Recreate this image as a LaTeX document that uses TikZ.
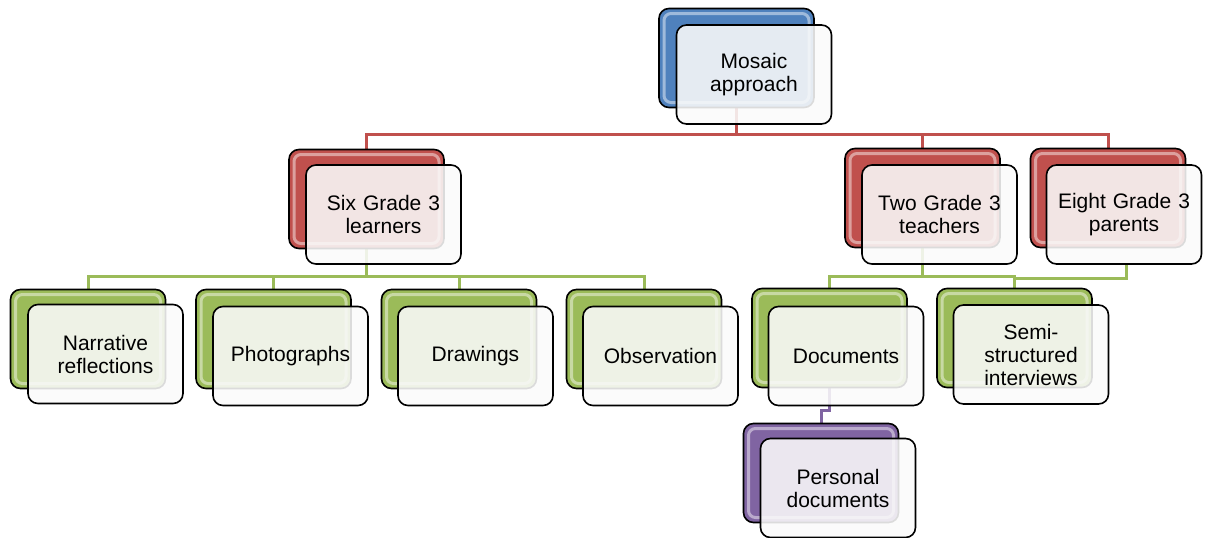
\documentclass[tikz,border=0pt]{standalone}
\usepackage{fontspec}
\setmainfont{Liberation Sans}
\usetikzlibrary{backgrounds}

\definecolor{hblue}{HTML}{4F81BD}
\definecolor{hred}{HTML}{C0504D}
\definecolor{hgreen}{HTML}{9BBB59}
\definecolor{hpurple}{HTML}{8064A2}

\tikzset{
  backbox/.style={draw=black, line width=1.6pt, rounded corners=10pt,
    fill=#1, minimum width=155pt, minimum height=99pt, inner sep=0pt,
    path picture={
      \draw[#1!35!white, opacity=.7, line width=3pt, rounded corners=7pt]
        ([shift={(5pt,-5pt)}]path picture bounding box.north west) rectangle
        ([shift={(-5pt,5pt)}]path picture bounding box.south east);
    }},
  frontbox/.style={draw=black, line width=1.6pt, rounded corners=10pt,
    fill=white!98!black, fill opacity=0.88, text opacity=1,
    minimum width=155pt, minimum height=99pt, text width=150pt,
    inner sep=2.5pt, align=center, font=\fontsize{21}{23}\selectfont},
  link/.style={line width=3pt, draw=#1}
}

\begin{document}
\begin{tikzpicture}[x=1pt, y=-1pt]
\useasboundingbox (0,0) rectangle (1205,538);

% bus levels of the connectors
\coordinate (rbus) at (0,134);
\coordinate (gbus) at (0,276.5);
\coordinate (gbusb) at (0,278);
\coordinate (pbus) at (0,410);

% coloured back plates
\node[backbox=hblue]   (mosaic-b) at (736.5,58) {};
\node[backbox=hred]    (six-b)    at (366.5,199) {};
\node[backbox=hred]    (two-b)    at (922.5,198) {};
\node[backbox=hred]    (eight-b)  at (1108,198) {};
\node[backbox=hgreen]  (narr-b)   at (88,339) {};
\node[backbox=hgreen]  (photo-b)  at (273.5,339) {};
\node[backbox=hgreen]  (draw-b)   at (459,339) {};
\node[backbox=hgreen]  (obs-b)    at (644,339) {};
\node[backbox=hgreen]  (docs-b)   at (829.5,338) {};
\node[backbox=hgreen]  (semi-b)   at (1014.5,338) {};
\node[backbox=hpurple] (pers-b)   at (821,473) {};

% text cards
\node[frontbox] (mosaic) at (754,74.5) {Mosaic\\approach};
\node[frontbox] (six)    at (383.5,214.5) {Six Grade 3\\learners};
\node[frontbox] (two)    at (939.5,214.5) {Two Grade 3\\teachers};
\node[frontbox] (eight)  at (1124,214.5) {Eight Grade 3\\parents};
\node[frontbox] (narr)   at (105.5,354) {Narrative\\reflections};
\node[frontbox] (photo)  at (290.5,356) {Photographs};
\node[frontbox] (draw)   at (475.5,356) {Drawings};
\node[frontbox] (obs)    at (660.5,356) {Observation};
\node[frontbox] (docs)   at (846,356) {Documents};
\node[frontbox] (semi)   at (1031,354.5) {Semi-\\structured\\interviews};
\node[frontbox] (pers)   at (838,488) {Personal\\documents};

\coordinate (eight-out) at ([xshift=2pt]eight.south);

\begin{scope}[on background layer]
  % first level
  \draw[link=hred] (mosaic-b.south) -- (mosaic-b.south|-rbus) -| (six-b.north);
  \draw[link=hred] (mosaic-b.south|-rbus) -| (two-b.north);
  \draw[link=hred] (mosaic-b.south|-rbus) -| (eight-b.north);
  % learners
  \draw[link=hgreen] (six-b.south) -- (six-b.south|-gbus) -| (narr-b.north);
  \draw[link=hgreen] (six-b.south|-gbus) -| (photo-b.north);
  \draw[link=hgreen] (six-b.south|-gbus) -| (draw-b.north);
  \draw[link=hgreen] (six-b.south|-gbus) -| (obs-b.north);
  % teachers and parents
  \draw[link=hgreen] (two-b.south) -- (two-b.south|-gbus) -| (docs-b.north);
  \draw[link=hgreen] (two-b.south|-gbus) -| (semi-b.north);
  \draw[link=hgreen] (eight-out) -- (eight-out|-gbusb) -| (semi-b.north);
  % documents
  \draw[link=hpurple] (docs-b.south) -- (docs-b.south|-pbus) -| (pers-b.north);
\end{scope}
\end{tikzpicture}
\end{document}
